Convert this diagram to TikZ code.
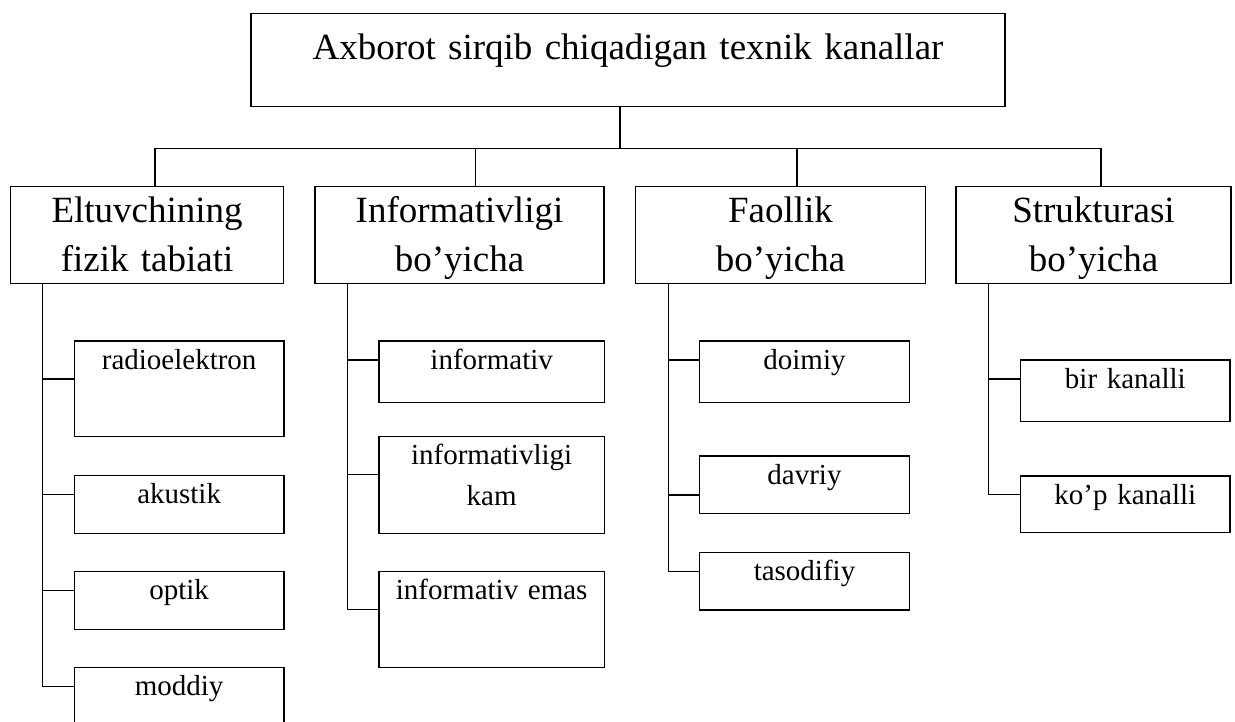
\documentclass[tikz,border=0pt]{standalone}
\usepackage{fontspec}
\setmainfont{Liberation Serif}
\usepackage{tikz}

\begin{document}
\begin{tikzpicture}[
      x=1pt, y=-1pt,
      every node/.style={inner sep=0pt, outer sep=0pt, anchor=north west, align=center},
      topbox/.style={draw, line width=1.3pt, text width=754pt, text height=46pt,
                     text depth=47.4pt, font=\fontsize{37}{49}\selectfont},
      catbox/.style={draw, line width=1.3pt, text height=36pt, text depth=60.6pt,
                     font=\fontsize{37}{49}\selectfont},
      subbox/.style={draw, line width=1.3pt, text height=28pt,
                     font=\fontsize{29}{40.7}\selectfont},
      link/.style={line width=1.3pt}
    ]
    \useasboundingbox (0,0) rectangle (1235,722);

    \node[topbox] (top) at (251,13.3) {Axborot sirqib chiqadigan texnik kanallar};

    \node[catbox, text width=272.8pt] (elt)  at (10.7,186.7) {Eltuvchining\\fizik tabiati};
    \node[catbox, text width=289pt]   (inf)  at (315,186.7)  {Informativligi\\bo’yicha};
    \node[catbox, text width=289.8pt] (faol) at (635.6,186.7) {Faollik\\bo’yicha};
    \node[catbox, text width=275pt]   (str)  at (956,186.7)  {Strukturasi\\bo’yicha};

    % fizik tabiati
    \node[subbox, text width=209.7pt, text depth=67.7pt] (radio)  at (74.3,341)   {radioelektron};
    \node[subbox, text width=209.7pt, text depth=29.6pt] (akus)   at (74.3,475.7) {akustik};
    \node[subbox, text width=209.7pt, text depth=29.6pt] (optik)  at (74.3,571.7) {optik};
    \node[subbox, text width=209.7pt, text depth=29.6pt] (moddiy) at (74.3,667.7) {moddiy};

    % informativligi
    \node[subbox, text width=225.3pt, text depth=33.3pt] (infv)   at (379,341)   {informativ};
    \node[subbox, text width=225.3pt, text depth=68.6pt] (infkam) at (379,436.7) {informativligi\\kam};
    \node[subbox, text width=225.3pt, text depth=68pt]   (infem)  at (379,571.7) {informativ emas};

    % faollik
    \node[subbox, text width=209.6pt, text depth=33.3pt] (doim)  at (699.7,341)   {doimiy};
    \node[subbox, text width=209.6pt, text depth=29.3pt] (davr)  at (699.7,456)   {davriy};
    \node[subbox, text width=209.6pt, text depth=29.7pt] (tasod) at (699.7,552.3) {tasodifiy};

    % strukturasi
    \node[subbox, text width=209.3pt, text depth=33.7pt] (bir) at (1020.7,360) {bir kanalli};
    \node[subbox, text width=209.3pt, text depth=28.7pt] (kop) at (1020.7,476) {ko’p kanalli};

    \coordinate (hub) at (620,148.3);
    \coordinate (d1) at (155,148.3);
    \coordinate (d2) at (475.7,148.3);
    \coordinate (d3) at (797,148.3);
    \coordinate (d4) at (1101,148.3);

    \draw[link] (top.south -| hub) -- (hub);
    \draw[link] (d1) -- (d4);
    \foreach \d/\c in {d1/elt, d2/inf, d3/faol, d4/str}{
      \draw[link] (\d) -- (\d |- \c.north);
    }

    \coordinate (t1) at ([xshift=32pt]elt.south west);
    \coordinate (t2) at ([xshift=32.7pt]inf.south west);
    \coordinate (t3) at ([xshift=32.7pt]faol.south west);
    \coordinate (t4) at ([xshift=32.7pt]str.south west);

    \foreach \t/\n/\y in {t1/radio/38, t1/akus/19, t1/optik/19, t1/moddiy/19,
                          t2/infv/19, t2/infkam/38, t2/infem/38,
                          t3/doim/19, t3/davr/39, t3/tasod/19.4,
                          t4/bir/19, t4/kop/18.3}{
      \coordinate (br) at ([yshift=-\y pt]\n.north west);
      \draw[link] (br) -| (\t);
    }
  \end{tikzpicture}
\end{document}
